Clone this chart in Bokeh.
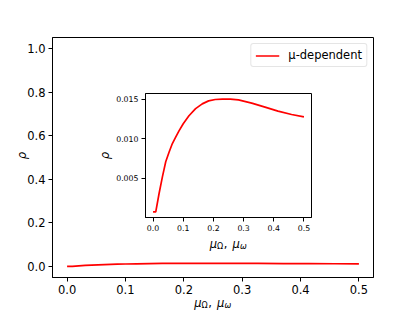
import math
from bokeh.plotting import figure
from bokeh.models import Range1d, FixedTicker, PrintfTickFormatter, Label, Legend, LegendItem
from bokeh.embed import file_html
from bokeh.resources import INLINE

# ---- data ----
mu = [0.0, 0.009, 0.020, 0.031, 0.042, 0.053, 0.064, 0.075, 0.086, 0.100,
      0.119, 0.141, 0.163, 0.184, 0.206, 0.230, 0.256, 0.283, 0.327, 0.371,
      0.414, 0.459, 0.500]
rho = [0.00078, 0.00078, 0.0031, 0.0052, 0.0071, 0.0083, 0.0094, 0.0102, 0.0110, 0.0119,
       0.0129, 0.0138, 0.0144, 0.01478, 0.01495, 0.01501, 0.0150, 0.01490, 0.01450, 0.01399,
       0.01348, 0.01306, 0.01276]
main_xticks = [0.0, 0.1, 0.2, 0.3, 0.4, 0.5]
main_yticks = [0.0, 0.2, 0.4, 0.6, 0.8, 1.0]
inset_xticks = [0.0, 0.1, 0.2, 0.3, 0.4, 0.5]
inset_yticks = [0.005, 0.010, 0.015]
series_label = "\u03bc-dependent"
y_label = "\u03c1"

FONT = "DejaVu Sans"
W, H = 415, 311
ADV = {"\u03bc": 0.636, "\u03a9": 0.764, "\u03c9": 0.838, ",": 0.318, " ": 0.45}


def style_axis(ax, size):
    ax.axis_line_color = "black"
    ax.axis_line_width = 1
    ax.major_tick_line_color = "black"
    ax.major_tick_line_width = 1
    ax.major_tick_out = 4
    ax.major_tick_in = 0
    ax.minor_tick_line_color = None
    ax.major_label_text_font = FONT
    ax.major_label_text_font_size = size
    ax.major_label_text_color = "black"
    ax.major_label_standoff = 3


def xlabel(fig, cx, base, size):
    # mu_Omega, mu_omega  (pieces: text, scale, drop, italic); page coordinates
    parts = [("\u03bc", 1.0, 0.0, True), ("\u03a9", 0.7, 0.26, False),
             (",", 1.0, 0.0, False), (" ", 1.0, 0.0, False),
             ("\u03bc", 1.0, 0.0, True), ("\u03c9", 0.7, 0.26, True)]
    total = sum(ADV[t] * s * size + (0.06 * size if s < 1 else 0) for t, s, d, i in parts)
    x = cx - total / 2
    for t, s, d, it in parts:
        if t.strip():
            fig.add_layout(Label(x=x, y=H - (base + d * size), x_units="screen", y_units="screen",
                                 text=t, text_font=FONT, text_font_size=f"{s*size:.2f}px",
                                 text_font_style="italic" if it else "normal",
                                 text_color="black", text_align="left",
                                 text_baseline="alphabetic"))
        x += ADV[t] * s * size + (0.06 * size if s < 1 else 0)


def ylabel(fig, cx, cy, size):
    fig.add_layout(Label(x=cx, y=H - cy, x_units="screen", y_units="screen", text=y_label,
                         text_font=FONT, text_font_size=f"{size}px", text_font_style="italic",
                         angle=math.pi / 2, text_align="center", text_baseline="middle",
                         text_color="black"))


# ---- main figure ----
p = figure(width=W, height=H, x_range=Range1d(-0.025, 0.525), y_range=Range1d(-0.05, 1.05),
           output_backend="svg", toolbar_location=None,
           min_border_left=52, min_border_right=42, min_border_top=37, min_border_bottom=34)
p.xgrid.visible = False
p.ygrid.visible = False
p.outline_line_color = "black"
p.outline_line_width = 1
p.background_fill_color = "white"
p.border_fill_color = "white"
p.xaxis.ticker = FixedTicker(ticks=main_xticks)
p.yaxis.ticker = FixedTicker(ticks=main_yticks)
p.xaxis.formatter = PrintfTickFormatter(format="%.1f")
p.yaxis.formatter = PrintfTickFormatter(format="%.1f")
style_axis(p.xaxis[0], "11.5px")
style_axis(p.yaxis[0], "11.5px")

r = p.line(mu, rho, line_color="red", line_width=1.7)
legend = Legend(items=[LegendItem(label=series_label, renderers=[r])], location="top_right",
                margin=6, padding=4, spacing=0, glyph_width=24, glyph_height=13,
                label_height=13, label_standoff=9, label_text_font=FONT,
                label_text_font_size="11.5px", label_text_color="black",
                border_line_color="#cccccc", border_line_width=1,
                background_fill_color="white", background_fill_alpha=0.8)
if "border_radius" in Legend.properties():
    legend.border_radius = 3
p.add_layout(legend)

# ---- inset figure ----
inset = figure(width=221, height=161, x_range=Range1d(-0.025, 0.525),
               y_range=Range1d(0.00007, 0.01571),
               output_backend="svg", toolbar_location=None,
               min_border_left=50, min_border_right=5, min_border_top=5, min_border_bottom=32,
               styles={"position": "absolute", "left": "95px", "top": "88px"})
inset.xgrid.visible = False
inset.ygrid.visible = False
inset.outline_line_color = "black"
inset.outline_line_width = 1
inset.background_fill_color = "white"
inset.border_fill_color = None
inset.xaxis.ticker = FixedTicker(ticks=inset_xticks)
inset.yaxis.ticker = FixedTicker(ticks=inset_yticks)
inset.xaxis.formatter = PrintfTickFormatter(format="%.1f")
inset.yaxis.formatter = PrintfTickFormatter(format="%.3f")
style_axis(inset.xaxis[0], "7.8px")
style_axis(inset.yaxis[0], "7.8px")
inset.line(mu, rho, line_color="red", line_width=1.7)

# ---- transparent overlay carrying the axis titles ----
ov = figure(width=W, height=H, output_backend="svg", toolbar_location=None,
            x_axis_location=None, y_axis_location=None,
            min_border_left=0, min_border_right=0, min_border_top=0, min_border_bottom=0,
            styles={"position": "absolute", "left": "0px", "top": "0px"})
ov.xgrid.visible = False
ov.ygrid.visible = False
ov.outline_line_color = None
ov.background_fill_color = None
ov.border_fill_color = None

ylabel(ov, 21, 155, 11.5)
xlabel(ov, 212.5, 302, 11.5)
ylabel(ov, 104.5, 155, 11.5)
xlabel(ov, 228, 243, 11.5)

open("out.html", "w").write(file_html([p, inset, ov], INLINE))
